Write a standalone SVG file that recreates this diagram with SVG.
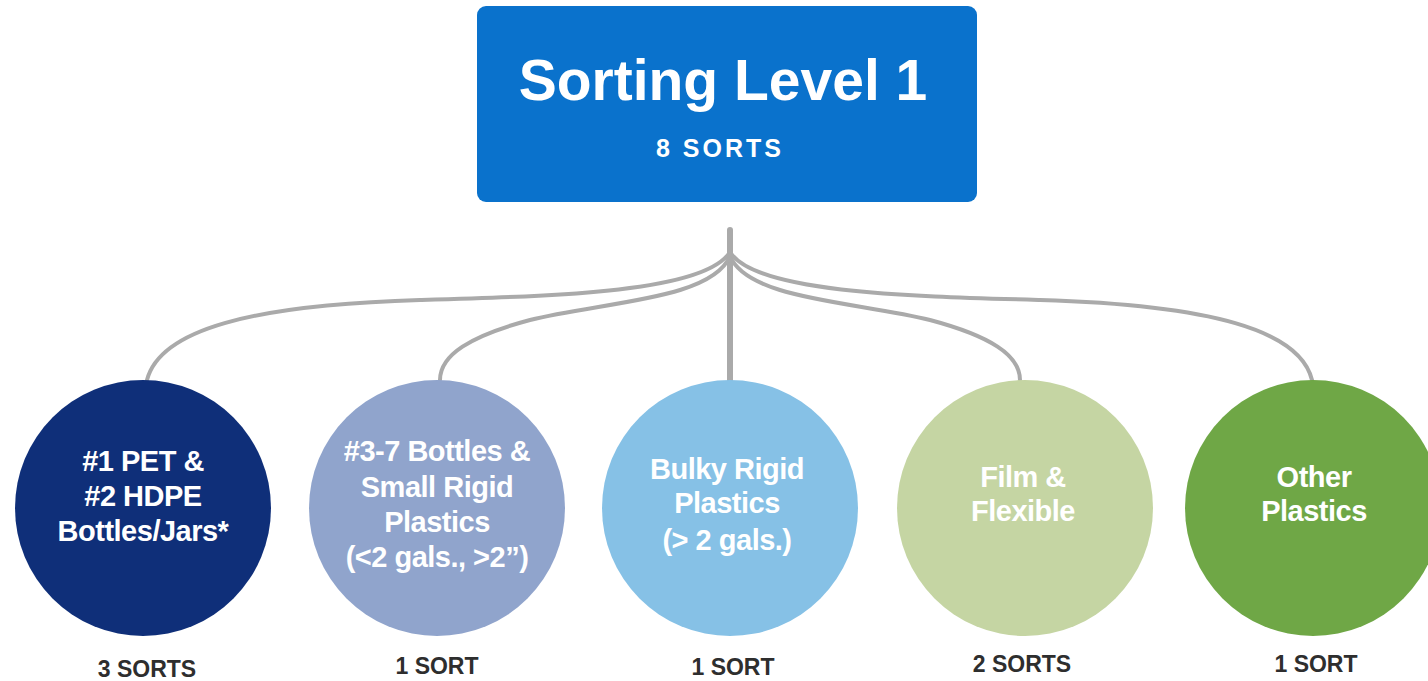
<svg xmlns="http://www.w3.org/2000/svg" width="1428" height="681" viewBox="0 0 1428 681">
<style>
.conn{fill:none;stroke:#aaaaaa;stroke-width:4;stroke-linecap:round}
.stem{fill:none;stroke:#aaaaaa;stroke-width:6;stroke-linecap:round}
.ct{font-family:"Liberation Sans",Arial,sans-serif;font-weight:bold;font-size:29px;fill:#ffffff;text-anchor:middle;letter-spacing:-0.5px}
.lbl{font-family:"Liberation Sans",Arial,sans-serif;font-weight:bold;font-size:23px;fill:#2e2e2e;text-anchor:middle}
</style>
<rect width="1428" height="681" fill="#ffffff"/>
<g id="connectors">
<path class="stem" d="M730 230 L730 382"/>
<path class="conn" d="M730 252 C705 292 560 296 420 300 C250 305 160 330 147 380"/>
<path class="conn" d="M730 256 C712 300 600 302 530 320 C470 336 440 355 440 380"/>
<path class="conn" d="M730 256 C748 300 860 302 930 320 C990 336 1020 355 1020 380"/>
<path class="conn" d="M730 252 C755 292 900 296 1040 300 C1210 305 1300 330 1312 380"/>
</g>
<g id="top">
<rect x="477" y="6" width="500" height="196" rx="9" fill="#0a72cc"/>
<text x="723" y="100" font-family="'Liberation Sans',Arial,sans-serif" font-weight="bold" font-size="57" fill="#ffffff" text-anchor="middle">Sorting Level 1</text>
<text x="720" y="157" font-family="'Liberation Sans',Arial,sans-serif" font-weight="bold" font-size="25" fill="#ffffff" text-anchor="middle" letter-spacing="3">8 SORTS</text>
</g>
<g id="n1">
<circle cx="143" cy="508" r="128" fill="#0f2f79"/>
<text class="ct" x="143" y="471">#1 PET &amp;</text>
<text class="ct" x="143" y="506">#2 HDPE</text>
<text class="ct" x="143" y="541">Bottles/Jars*</text>
<text class="lbl" x="147" y="677">3 SORTS</text>
</g>
<g id="n2">
<circle cx="437" cy="508" r="128" fill="#90a4cc"/>
<text class="ct" x="437" y="461">#3-7 Bottles &amp;</text>
<text class="ct" x="437" y="497">Small Rigid</text>
<text class="ct" x="437" y="532">Plastics</text>
<text class="ct" x="437" y="567">(&lt;2 gals., &gt;2”)</text>
<text class="lbl" x="437" y="674">1 SORT</text>
</g>
<g id="n3">
<circle cx="730" cy="508" r="128" fill="#86c1e6"/>
<text class="ct" x="727" y="479">Bulky Rigid</text>
<text class="ct" x="727" y="513">Plastics</text>
<text class="ct" x="727" y="550">(&gt; 2 gals.)</text>
<text class="lbl" x="733" y="675">1 SORT</text>
</g>
<g id="n4">
<circle cx="1025" cy="508" r="128" fill="#c5d5a3"/>
<text class="ct" x="1023" y="487">Film &amp;</text>
<text class="ct" x="1023" y="521">Flexible</text>
<text class="lbl" x="1022" y="672">2 SORTS</text>
</g>
<g id="n5">
<circle cx="1313" cy="508" r="128" fill="#6fa746"/>
<text class="ct" x="1314" y="487">Other</text>
<text class="ct" x="1314" y="521">Plastics</text>
<text class="lbl" x="1316" y="672">1 SORT</text>
</g>
</svg>
